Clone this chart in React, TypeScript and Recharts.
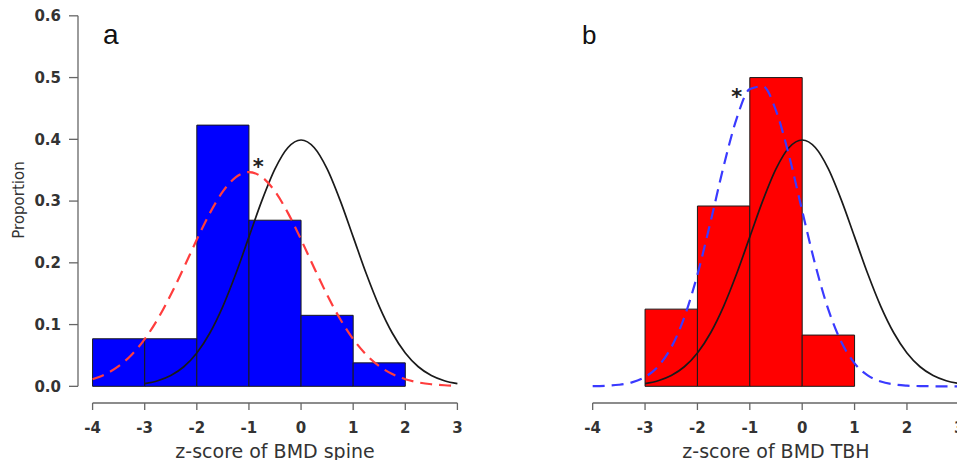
import React from 'react';
import {
  ComposedChart,
  Line,
  XAxis,
  YAxis,
  ReferenceArea,
  ReferenceLine,
  ReferenceDot,
} from 'recharts';

// ---- axis ticks ----
const xTicks = [-4, -3, -2, -1, 0, 1, 2, 3];
const yTicks = [0, 0.1, 0.2, 0.3, 0.4, 0.5, 0.6];

// ---- panel a: BMD spine histogram ----
const spineBinStart = [-4, -3, -2, -1, 0, 1];
const spineBinEnd = [-3, -2, -1, 0, 1, 2];
const spineProportion = [0.077, 0.077, 0.423, 0.269, 0.115, 0.038];

// ---- panel b: BMD TBH histogram ----
const tbhBinStart = [-3, -2, -1, 0];
const tbhBinEnd = [-2, -1, 0, 1];
const tbhProportion = [0.125, 0.292, 0.5, 0.083];

// ---- fitted curves ----
const curveX = [
  -4, -3.75, -3.5, -3.25, -3, -2.75, -2.5, -2.25, -2, -1.75, -1.5, -1.25, -1,
  -0.75, -0.5, -0.25, 0, 0.25, 0.5, 0.75, 1, 1.25, 1.5, 1.75, 2, 2.25, 2.5,
  2.75, 3,
];
const spineFitY = [
  0.0115, 0.0199, 0.0326, 0.0512, 0.0765, 0.109, 0.1482, 0.1921, 0.2377,
  0.2805, 0.3156, 0.3388, 0.3469, 0.3388, 0.3156, 0.2805, 0.2377, 0.1921,
  0.1482, 0.109, 0.0765, 0.0512, 0.0326, 0.0199, 0.0115, 0.0064, 0.0034,
  0.0017, 0.0008,
];
const tbhFitY = [
  0.0003, 0.0009, 0.0025, 0.0064, 0.0151, 0.0324, 0.063, 0.1119, 0.1809,
  0.2661, 0.3562, 0.434, 0.4813, 0.4858, 0.4464, 0.3733, 0.2841, 0.1968,
  0.1241, 0.0713, 0.0372, 0.0177, 0.0077, 0.003, 0.0011, 0.0004, 0.0001, 0,
  0,
];
const refX = [
  -3, -2.75, -2.5, -2.25, -2, -1.75, -1.5, -1.25, -1, -0.75, -0.5, -0.25, 0,
  0.25, 0.5, 0.75, 1, 1.25, 1.5, 1.75, 2, 2.25, 2.5, 2.75, 3,
];
const refY = [
  0.0044, 0.0091, 0.0175, 0.0317, 0.054, 0.0863, 0.1295, 0.1826, 0.242,
  0.3011, 0.3521, 0.3867, 0.3989, 0.3867, 0.3521, 0.3011, 0.242, 0.1826,
  0.1295, 0.0863, 0.054, 0.0317, 0.0175, 0.0091, 0.0044,
];

// ---- asterisk markers ----
const spineStar = { x: -0.82, y: 0.363 };
const tbhStar = { x: -1.25, y: 0.476 };

const spineFit = curveX.map((x, i) => ({ x, y: spineFitY[i] }));
const tbhFit = curveX.map((x, i) => ({ x, y: tbhFitY[i] }));
const refCurve = refX.map((x, i) => ({ x, y: refY[i] }));

const X_MIN = -4.28;
const X_MAX = 3.28;
const Y_MIN = -0.027;
const Y_MAX = 0.624;

const AXIS_COLOR = '#666';
const TEXT_COLOR = '#333';

const tickStyle = {
  fill: TEXT_COLOR,
  fontSize: 15,
  fontWeight: 'bold' as const,
  fontFamily: 'DejaVu Sans',
  style: { fontSize: 15, fontFamily: 'DejaVu Sans', fontWeight: 'bold' as const },
};

const Star = (props: any) => (
  <text
    x={props.cx}
    y={props.cy}
    dy="0.57em"
    textAnchor="middle"
    fontSize={21}
    fontWeight="bold"
    fontFamily="DejaVu Sans"
    fill="#222"
  >
    *
  </text>
);

function Panel(props: {
  width: number;
  margin: any;
  showY: boolean;
  binStart: number[];
  binEnd: number[];
  proportion: number[];
  barColor: string;
  fit: { x: number; y: number }[];
  fitColor: string;
  dash: string;
  star: { x: number; y: number };
  title: string;
}) {
  return (
    <ComposedChart width={props.width} height={468} margin={props.margin}>
      <XAxis
        type="number"
        dataKey="x"
        domain={[X_MIN, X_MAX]}
        ticks={xTicks}
        interval={0}
        allowDataOverflow
        axisLine={false}
        tickLine={{ stroke: AXIS_COLOR, strokeWidth: 1.3 }}
        tickSize={7}
        tickMargin={12}
        height={65}
        tick={tickStyle}
        label={{
          value: props.title,
          position: 'insideBottom',
          offset: 10,
          fill: TEXT_COLOR,
          fontSize: 19,
          fontFamily: 'DejaVu Sans',
        }}
      />
      <YAxis
        type="number"
        domain={[Y_MIN, Y_MAX]}
        ticks={yTicks}
        interval={0}
        allowDataOverflow
        hide={!props.showY}
        width={78}
        axisLine={false}
        tickLine={{ stroke: AXIS_COLOR, strokeWidth: 1.3 }}
        tickSize={9}
        tickMargin={8}
        tick={tickStyle}
        tickFormatter={(v: number) => v.toFixed(1)}
      />
      {props.binStart.map((s, i) => (
        <ReferenceArea
          key={'bin' + i}
          x1={s}
          x2={props.binEnd[i]}
          y1={0}
          y2={props.proportion[i]}
          fill={props.barColor}
          fillOpacity={1}
          stroke="#1a1a1a"
          strokeWidth={1}
          ifOverflow="visible"
        />
      ))}
      <ReferenceLine
        segment={[
          { x: xTicks[0], y: Y_MIN },
          { x: xTicks[xTicks.length - 1], y: Y_MIN },
        ]}
        stroke={AXIS_COLOR}
        strokeWidth={1.3}
        ifOverflow="visible"
      />
      {props.showY && (
        <ReferenceLine
          segment={[
            { x: X_MIN, y: yTicks[0] },
            { x: X_MIN, y: yTicks[yTicks.length - 1] },
          ]}
          stroke={AXIS_COLOR}
          strokeWidth={1.3}
          ifOverflow="visible"
        />
      )}
      <Line
        data={refCurve}
        dataKey="y"
        type="monotone"
        stroke="#1a1a1a"
        strokeWidth={1.7}
        dot={false}
        activeDot={false}
        isAnimationActive={false}
      />
      <Line
        data={props.fit}
        dataKey="y"
        type="monotone"
        stroke={props.fitColor}
        strokeWidth={2.2}
        strokeDasharray={props.dash}
        dot={false}
        activeDot={false}
        isAnimationActive={false}
      />
      <ReferenceDot
        x={props.star.x}
        y={props.star.y}
        r={1}
        ifOverflow="visible"
        shape={<Star />}
      />
    </ComposedChart>
  );
}

export default function App() {
  return (
    <div
      style={{
        position: 'relative',
        width: 965,
        height: 468,
        margin: -8,
        overflow: 'hidden',
        background: '#fff',
      }}
    >
      <div style={{ position: 'absolute', left: 0, top: 0 }}>
        <Panel
          width={480}
          margin={{ top: 1, right: 8, left: 0, bottom: 0 }}
          showY={true}
          binStart={spineBinStart}
          binEnd={spineBinEnd}
          proportion={spineProportion}
          barColor="#0000ff"
          fit={spineFit}
          fitColor="#ff3d3d"
          dash="12 7"
          star={spineStar}
          title="z-score of BMD spine"
        />
      </div>
      <div style={{ position: 'absolute', left: 480, top: 0 }}>
        <Panel
          width={500}
          margin={{ top: 1, right: 6, left: 98, bottom: 0 }}
          showY={false}
          binStart={tbhBinStart}
          binEnd={tbhBinEnd}
          proportion={tbhProportion}
          barColor="#ff0000"
          fit={tbhFit}
          fitColor="#3a3aff"
          dash="12 7"
          star={tbhStar}
          title="z-score of BMD TBH"
        />
      </div>
      <div
        style={{
          position: 'absolute',
          left: 19,
          top: 200,
          transform: 'translate(-50%, -50%) rotate(-90deg)',
          fontFamily: 'DejaVu Sans',
          fontSize: 15,
          lineHeight: '17px',
          whiteSpace: 'nowrap',
          color: TEXT_COLOR,
        }}
      >
        Proportion
      </div>
      <div
        style={{
          position: 'absolute',
          left: 103,
          top: 20,
          fontFamily: 'Liberation Sans',
          fontSize: 28,
          lineHeight: '30px',
          color: '#111',
        }}
      >
        a
      </div>
      <div
        style={{
          position: 'absolute',
          left: 582,
          top: 20,
          fontFamily: 'Liberation Sans',
          fontSize: 26,
          lineHeight: '30px',
          color: '#111',
        }}
      >
        b
      </div>
    </div>
  );
}
